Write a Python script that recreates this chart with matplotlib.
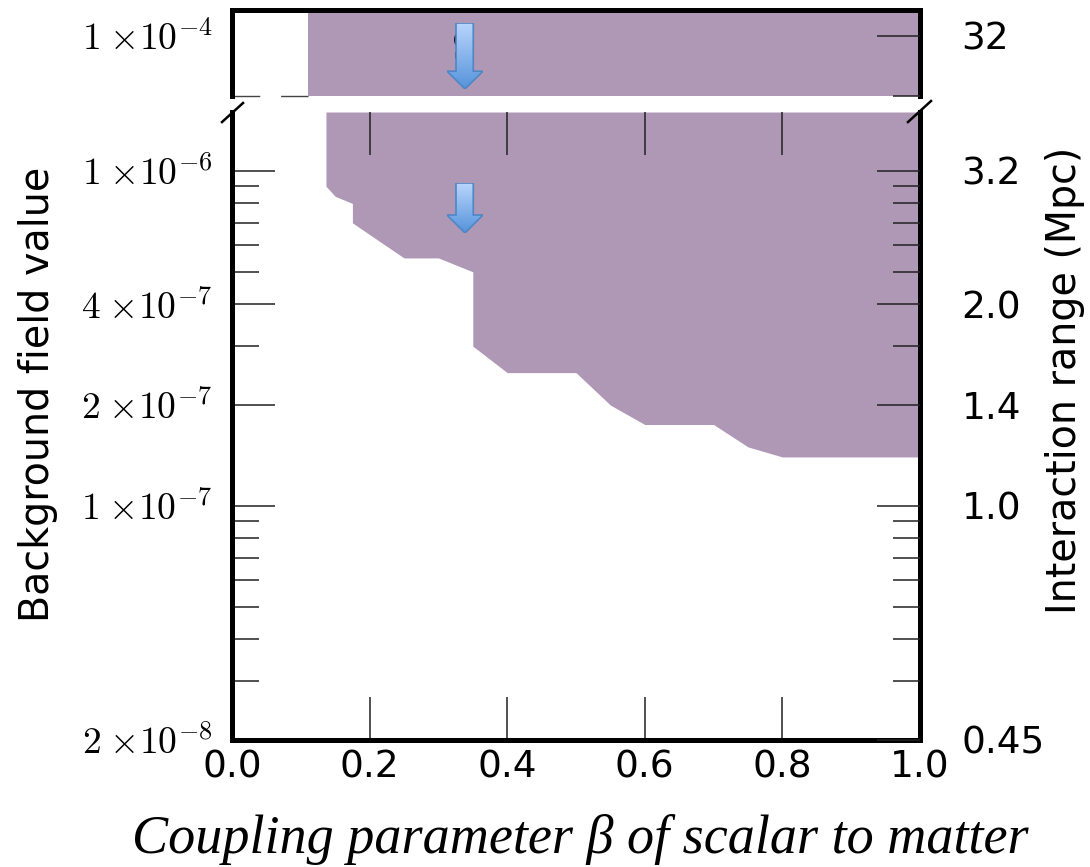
import numpy as np
import matplotlib
matplotlib.use("Agg")
import matplotlib.pyplot as plt
from matplotlib.ticker import FixedLocator, FixedFormatter, NullFormatter, LogLocator
from matplotlib.patches import Polygon
from matplotlib.colors import LinearSegmentedColormap

plt.rcParams['mathtext.fontset'] = 'cm'

# ---------------- data ----------------
beta_edge = [0.1366, 0.1366, 0.15, 0.175, 0.175, 0.25, 0.30, 0.35, 0.35,
             0.40, 0.50, 0.55, 0.60, 0.70, 0.75, 0.80, 1.00]
field_edge = [1.5e-6, 9.0e-7, 8.4e-7, 8.0e-7, 7.0e-7, 5.5e-7, 5.5e-7, 5.0e-7, 3.0e-7,
              2.5e-7, 2.5e-7, 2.0e-7, 1.75e-7, 1.75e-7, 1.5e-7, 1.4e-7, 1.4e-7]
beta_top_start = 0.11          # start of excluded band in upper panel

x_ticks = [0.0, 0.2, 0.4, 0.6, 0.8, 1.0]
x_ticklabels = ['0.0', '0.2', '0.4', '0.6', '0.8', '1.0']

y_ticks = [1e-6, 4e-7, 2e-7, 1e-7, 2e-8]
y_ticklabels = [r'$1\;{\times}10^{-6}$', r'$4\;{\times}10^{-7}$', r'$2\;{\times}10^{-7}$',
                r'$1\;{\times}10^{-7}$', r'$2\;{\times}10^{-8}$']
range_ticklabels = ['3.2', '2.0', '1.4', '1.0', '0.45']

y_ticks_top = [1e-4]
y_ticklabels_top = [r'$1\;{\times}10^{-4}$']
range_ticklabels_top = ['32']

ylim_bottom = (2e-8, 1.5e-6)
ylim_top = (6.62e-5, 1.196e-4)

purple = '#AF98B5'

# ---------------- figure ----------------
fig = plt.figure(figsize=(10.9, 8.67), dpi=100)
W, H = 1090, 867
def fx(px): return px / W
def fy(py): return 1 - py / H

ax = fig.add_axes([fx(232), fy(740), fx(920) - fx(232), fy(112) - fy(740)])
axt = fig.add_axes([fx(232), fy(96), fx(920) - fx(232), fy(9.5) - fy(96)])

spine_lw = 3.6
maj_len, min_len = 31, 19.5
tick_fs = 27
math_fs = 27

# ---- bottom panel ----
ax.set_yscale('log')
ax.set_xlim(0, 1)
ax.set_ylim(*ylim_bottom)
ax.fill_between(beta_edge, field_edge, ylim_bottom[1], color=purple, lw=0, zorder=1)
ax.spines['top'].set_visible(False)
for s in ['left', 'right', 'bottom']:
    ax.spines[s].set_linewidth(spine_lw)
ax.yaxis.set_major_locator(FixedLocator(y_ticks))
ax.yaxis.set_major_formatter(FixedFormatter(y_ticklabels))
ax.yaxis.set_minor_locator(LogLocator(base=10, subs=np.arange(1, 10)))
ax.yaxis.set_minor_formatter(NullFormatter())
ax.tick_params(axis='y', which='major', direction='in', length=maj_len, width=1.1,
               color='#222222', labelsize=math_fs, pad=14, left=True, right=False)
ax.tick_params(axis='y', which='minor', direction='in', length=min_len, width=1.1,
               color='#222222', left=True, right=False)
ax.set_xticks(x_ticks)
ax.set_xticklabels(x_ticklabels)
ax.tick_params(axis='x', which='major', direction='in', length=maj_len, width=1.1,
               color='#222222', labelsize=tick_fs, pad=7, top=True, bottom=True)
ax.tick_params(axis='x', which='minor', bottom=False, top=False)

ax2 = ax.twinx()
ax2.set_yscale('log')
ax2.set_ylim(*ylim_bottom)
for s in ax2.spines.values():
    s.set_visible(False)
ax2.yaxis.set_major_locator(FixedLocator(y_ticks))
ax2.yaxis.set_major_formatter(FixedFormatter(range_ticklabels))
ax2.yaxis.set_minor_locator(LogLocator(base=10, subs=np.arange(1, 10)))
ax2.yaxis.set_minor_formatter(NullFormatter())
ax2.tick_params(axis='y', which='major', direction='in', length=maj_len, width=1.1,
                color='#222222', labelsize=tick_fs, pad=30)
ax2.tick_params(axis='y', which='minor', direction='in', length=min_len, width=1.1,
                color='#222222')

ax.set_ylabel('Background field value', fontsize=28.5, va='center', ha='center')
ax.yaxis.set_label_coords(-0.282, 0.55)
ax2.set_ylabel('Interaction range (Mpc)', fontsize=28.5, va='center', ha='center',
               rotation=90)
ax2.yaxis.set_label_coords(1.211, 0.573)
ax.set_xlabel('Coupling parameter β of scalar to matter', fontsize=39,
              family='Liberation Serif', style='italic', va='center')
ax.xaxis.set_label_coords(0.506, -0.158)

# break marks
ax.plot([-0.0145, 0.016], [0.984, 1.0143], transform=ax.transAxes, color='black',
        lw=1.8, clip_on=False)
ax.plot([1 - 0.0175, 1 + 0.016], [0.984, 1.0175], transform=ax.transAxes, color='black',
        lw=1.8, clip_on=False)

# ---- top panel ----
axt.set_yscale('log')
axt.set_xlim(0, 1)
axt.set_ylim(*ylim_top)
axt.fill_between([beta_top_start, 1.0], ylim_top[0], ylim_top[1], color=purple, lw=0, zorder=1)
for s in ['left', 'right', 'top']:
    axt.spines[s].set_linewidth(spine_lw)
axt.spines['bottom'].set_visible(False)
axt.plot([0, beta_top_start], [0, 0], transform=axt.transAxes, color='#444444', lw=1.0,
         ls=(0, (20, 15)), clip_on=False, zorder=0.5)
axt.set_xticks([])
axt.yaxis.set_major_locator(FixedLocator(y_ticks_top))
axt.yaxis.set_major_formatter(FixedFormatter(y_ticklabels_top))
axt.yaxis.set_minor_locator(FixedLocator([]))
axt.tick_params(axis='y', which='major', direction='in', length=0, labelsize=math_fs, pad=14)

axt2 = axt.twinx()
axt2.set_yscale('log')
axt2.set_ylim(*ylim_top)
for s in axt2.spines.values():
    s.set_visible(False)
axt2.yaxis.set_major_locator(FixedLocator(y_ticks_top))
axt2.yaxis.set_major_formatter(FixedFormatter(range_ticklabels_top))
axt2.yaxis.set_minor_locator(FixedLocator([ylim_top[0] * 1.003]))
axt2.yaxis.set_minor_formatter(NullFormatter())
axt2.tick_params(axis='y', which='major', direction='in', length=maj_len, width=1.1,
                 color='#222222', labelsize=tick_fs, pad=30)
axt2.tick_params(axis='y', which='minor', direction='in', length=min_len, width=1.1,
                 color='#222222')

# glyph partly hidden behind the top arrow
axt.text(fx(463), fy(49), '9', transform=fig.transFigure, fontsize=30,
         family='Liberation Serif', weight='bold', ha='center', va='center',
         color='black', zorder=2)

# ---- blue gradient arrows (annotations) ----
cmap = LinearSegmentedColormap.from_list('arr', ['#5593da', '#b9d5fc'])
def add_arrow(left, top, right, bottom, head_frac):
    a = fig.add_axes([fx(left), fy(bottom), fx(right) - fx(left), fy(top) - fy(bottom)])
    a.set_xlim(0, 1); a.set_ylim(0, 1); a.axis('off')
    a.patch.set_visible(False)
    verts = [(0.25, 1.0), (0.73, 1.0), (0.73, head_frac), (1.0, head_frac),
             (0.5, 0.0), (0.0, head_frac), (0.25, head_frac)]
    grad = np.linspace(0, 1, 256).reshape(-1, 1)
    im = a.imshow(grad, extent=[0, 1, 0, 1], origin='lower', cmap=cmap,
                  aspect='auto', zorder=1)
    poly = Polygon(verts, closed=True, facecolor='none', edgecolor='#4f86c6', lw=1.2, zorder=2)
    a.add_patch(poly)
    im.set_clip_path(poly)
    return a

add_arrow(447, 23, 483, 89, 0.27)
add_arrow(447, 183, 483, 233, 0.36)

fig.savefig('out.png', dpi=100)
